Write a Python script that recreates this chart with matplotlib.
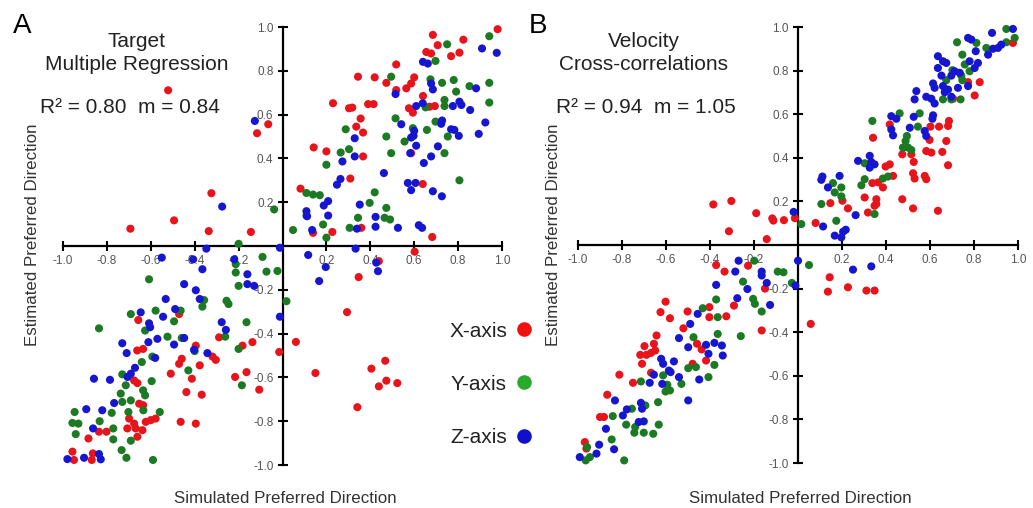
import matplotlib
matplotlib.use("Agg")
import matplotlib.pyplot as plt
from matplotlib.lines import Line2D

# ---------------- data (x = simulated, y = estimated preferred direction) ----------------
A_X_AXIS = [(0.98,0.99),(0.685,0.964),(0.707,0.917),(0.655,0.886),(0.677,0.879),(0.824,0.942),(0.806,0.883),
    (0.768,0.867),(0.518,0.829),(0.344,0.773),(0.42,0.77),(0.473,0.745),(0.586,0.742),(0.6,0.77),(0.564,0.72),
    (0.518,0.712),(0.23,0.652),(0.303,0.629),(0.318,0.632),(0.39,0.648),(0.415,0.648),(0.576,0.629),(0.594,0.609),
    (0.64,0.685),(0.694,0.639),(0.67,0.636),(0.356,0.582),(0.336,0.545),(0.367,0.518),(0.142,0.45),(0.2,0.432),
    (0.367,0.409),(0.309,0.308),(0.082,0.262),(0.639,0.283),(0.586,0.424),(0.227,0.064),(0.359,0.083),(0.139,0.06),
    (0.682,0.041),
    (-0.521,0.711),(-0.065,0.556),(-0.116,0.515),(-0.324,0.241),(-0.494,0.117),(-0.693,0.079),(-0.336,0.068),
    (-0.144,0.064),
    (-0.657,-0.338),(-0.471,-0.311),(-0.662,-0.477),(-0.635,-0.47),(-0.395,-0.455),(-0.289,-0.417),(-0.319,-0.505),
    (-0.304,-0.52),(-0.459,-0.515),(-0.471,-0.538),(-0.509,-0.583),(-0.377,-0.545),(-0.413,-0.606),(-0.676,-0.614),
    (-0.661,-0.626),(-0.438,-0.667),(-0.368,-0.679),(-0.653,-0.72),(-0.635,-0.727),(-0.699,-0.788),(-0.676,-0.811),
    (-0.707,-0.833),(-0.669,-0.833),(-0.638,-0.841),(-0.623,-0.803),(-0.6,-0.795),(-0.578,-0.788),(-0.661,-0.871),
    (-0.836,-0.848),(-0.802,-0.848),(-0.884,-0.879),(-0.464,-0.803),(-0.395,-0.811),(-0.957,-0.939),(-0.95,-0.977),
    (-0.864,-0.947),(-0.869,-0.977),(-0.182,-0.455),(-0.137,-0.439),(-0.216,-0.598),(-0.164,-0.576),(-0.106,-0.656),
    (-0.015,-0.484),
    (0.347,-0.142),(0.294,-0.302),(0.061,-0.438),(0.15,-0.58),(0.405,-0.56),(0.468,-0.524),(0.439,-0.641),
    (0.473,-0.615),(0.523,-0.626),(0.341,-0.736),(0.602,-0.026),(0.439,-0.069)]

A_Y_AXIS = [(0.942,0.958),(0.75,0.921),(0.697,0.845),(0.674,0.761),(0.727,0.745),(0.78,0.758),(0.495,0.773),
    (0.852,0.73),(0.942,0.745),(0.791,0.705),(0.942,0.655),(0.738,0.667),(0.738,0.639),(0.652,0.633),(0.515,0.583),
    (0.697,0.568),(0.658,0.53),(0.556,0.477),(0.594,0.538),(0.473,0.5),(0.495,0.424),(0.738,0.424),(0.753,0.5),
    (0.806,0.3),(0.288,0.533),(0.303,0.442),(0.265,0.427),(0.2,0.371),(0.109,0.242),(0.139,0.235),(0.17,0.232),
    (-0.038,0.167),(0.42,0.245),(0.397,0.197),(0.473,0.174),(0.465,0.129),(0.49,0.121),(0.344,0.129),(0.306,0.083),
    (0.185,0.098),(0.109,0.139),(0.048,0.073),(0.2,0.038),(-0.2,0.01),
    (-0.608,-0.152),(-0.836,-0.376),(-0.691,-0.311),(-0.578,-0.295),(-0.494,-0.344),(-0.464,-0.295),(-0.626,-0.386),
    (-0.524,-0.414),(-0.459,-0.42),(-0.40,-0.48),(-0.593,-0.505),(-0.641,-0.53),(-0.429,-0.568),(-0.73,-0.586),
    (-0.714,-0.636),(-0.596,-0.617),(-0.635,-0.659),(-0.626,-0.682),(-0.737,-0.674),(-0.73,-0.712),(-0.691,-0.705),
    (-0.778,-0.762),(-0.702,-0.758),(-0.634,-0.75),(-0.559,-0.758),(-0.947,-0.758),(-0.957,-0.808),(-0.93,-0.811),
    (-0.942,-0.859),(-0.833,-0.8),(-0.771,-0.833),(-0.771,-0.883),(-0.691,-0.889),(-0.733,-0.932),(-0.711,-0.967),
    (-0.59,-0.977),(-0.091,-0.05),(-0.213,-0.083),(-0.213,-0.121),(-0.2,-0.182),(-0.073,-0.117),(-0.023,-0.114),
    (-0.357,-0.247),(-0.365,-0.277),(-0.255,-0.25),(-0.246,-0.265),(-0.164,-0.348),(-0.261,-0.414),(-0.2,-0.47),
    (-0.185,-0.636),(0.018,-0.252)]

A_Z_AXIS = [(0.909,0.902),(0.976,0.882),(0.64,0.841),(0.662,0.833),(0.677,0.742),(0.685,0.715),(0.882,0.72),
    (0.515,0.694),(0.609,0.639),(0.639,0.652),(0.776,0.639),(0.806,0.659),(0.815,0.644),(0.855,0.621),(0.727,0.573),
    (0.723,0.558),(0.768,0.533),(0.783,0.53),(0.803,0.503),(0.541,0.556),(0.6,0.526),(0.597,0.503),(0.609,0.458),
    (0.586,0.495),(0.582,0.424),(0.708,0.455),(0.677,0.409),(0.644,0.379),(0.924,0.564),(0.894,0.512),(0.329,0.492),
    (0.329,0.409),(0.273,0.386),(0.264,0.306),(0.248,0.28),(0.462,0.333),(0.571,0.288),(0.606,0.288),(0.586,0.255),
    (0.685,0.25),(0.726,0.227),(0.208,0.205),(0.188,0.185),(0.352,0.189),(0.109,0.159),(0.112,0.136),(0.208,0.139),
    (0.135,0.073),(0.424,0.133),(0.424,0.088),(0.339,0.079),(0.621,0.095),(0.636,0.083),(0.526,0.083),
    (-0.012,-0.008),(0.333,-0.012),
    (-0.126,0.571),(-0.275,0.18),(-0.347,-0.012),
    (-0.55,-0.053),(-0.407,-0.061),(-0.365,-0.106),(-0.22,-0.061),(-0.16,-0.129),(-0.16,-0.174),(-0.129,-0.182),
    (-0.448,-0.174),(-0.395,-0.202),(-0.377,-0.242),(-0.532,-0.242),(-0.544,-0.323),(-0.489,-0.288),(-0.646,-0.303),
    (-0.608,-0.353),(-0.603,-0.371),(-0.611,-0.439),(-0.57,-0.424),(-0.494,-0.45),(-0.448,-0.42),(-0.73,-0.444),
    (-0.71,-0.489),(-0.58,-0.511),(-0.672,-0.556),(-0.691,-0.583),(-0.706,-0.598),(-0.859,-0.606),(-0.786,-0.611),
    (-0.767,-0.717),(-0.821,-0.75),(-0.894,-0.745),(-0.863,-0.833),(-0.403,-0.474),(-0.342,-0.489),(-0.277,-0.348),
    (-0.258,-0.383),(-0.012,-0.323),(-0.98,-0.973),(-0.904,-0.967),(-0.836,-0.95),(-0.828,-0.974),
    (0.117,-0.041),(0.197,-0.096),(0.167,-0.16),(0.427,-0.076),(0.435,-0.115)]

B_X_AXIS = [(-0.385,0.186),(-0.303,0.202),(-0.314,0.063),(-0.19,0.146),(-0.117,0.122),(-0.112,0.112),
    (-0.064,0.114),(-0.014,0.123),(-0.142,0.027),
    (0.977,0.927),(0.826,0.747),(0.773,0.747),(0.803,0.686),(0.705,0.671),(0.417,0.553),(0.641,0.543),(0.686,0.569),
    (0.682,0.546),(0.602,0.543),(0.598,0.482),(0.341,0.492),(0.674,0.477),(0.583,0.431),(0.606,0.424),(0.656,0.427),
    (0.515,0.416),(0.526,0.381),(0.474,0.416),(0.682,0.366),(0.417,0.37),(0.398,0.36),(0.432,0.317),(0.523,0.329),
    (0.576,0.317),(0.583,0.302),(0.53,0.305),(0.338,0.284),(0.364,0.287),(0.386,0.264),(0.356,0.21),(0.356,0.188),
    (0.348,0.18),(0.303,0.218),(0.318,0.149),(0.474,0.21),(0.523,0.168),(0.636,0.157),(0.227,0.168),(0.202,0.203),
    (0.147,0.192),(0.08,0.101),
    (-0.372,-0.092),(-0.334,-0.122),(-0.227,-0.095),(-0.15,-0.2),(-0.165,-0.392),(-0.291,-0.278),(-0.326,-0.327),
    (-0.403,-0.285),(-0.403,-0.331),(-0.602,-0.26),(-0.625,-0.308),(-0.582,-0.336),(-0.502,-0.305),(-0.521,-0.382),
    (-0.643,-0.415),(-0.655,-0.453),(-0.698,-0.464),(-0.717,-0.504),(-0.689,-0.504),(-0.668,-0.495),(-0.649,-0.484),
    (-0.709,-0.545),(-0.459,-0.453),(-0.438,-0.479),(-0.418,-0.53),(-0.479,-0.545),(-0.668,-0.586),(-0.812,-0.595),
    (-0.75,-0.632),(-0.867,-0.687),(-0.9,-0.789),(-0.882,-0.789),(-0.969,-0.904),(-0.962,-0.934),
    (0.144,-0.148),(0.136,-0.214),(0.227,-0.194),(0.311,-0.209),(0.348,-0.209),(0.058,-0.362)]

B_Y_AXIS = [(0.947,0.991),(0.985,0.95),(0.947,0.93),(0.723,0.93),(0.811,0.927),(0.856,0.904),(0.747,0.873),
    (0.758,0.828),(0.702,0.802),(0.742,0.777),(0.78,0.797),(0.674,0.756),(0.747,0.756),(0.659,0.668),(0.697,0.668),
    (0.739,0.668),(0.462,0.604),(0.553,0.604),(0.545,0.543),(0.495,0.5),(0.489,0.477),(0.477,0.447),(0.5,0.447),
    (0.515,0.436),(0.338,0.569),(0.303,0.375),(0.303,0.302),(0.288,0.274),(0.386,0.305),(0.409,0.314),(0.159,0.284),
    (0.197,0.264),(0.167,0.241),(0.197,0.223),(0.106,0.188),(0.174,0.111),(0.348,0.142),(0.015,0.096),
    (-0.199,-0.072),(-0.092,-0.122),(-0.066,-0.125),(-0.028,-0.174),(-0.25,-0.168),(-0.204,-0.247),(-0.196,-0.27),
    (-0.165,-0.305),(-0.372,-0.25),(-0.433,-0.29),(-0.365,-0.331),(-0.365,-0.408),(-0.26,-0.418),(-0.475,-0.423),
    (-0.38,-0.55),(-0.407,-0.606),(-0.499,-0.565),(-0.464,-0.56),(-0.53,-0.637),(-0.613,-0.598),(-0.594,-0.641),
    (-0.602,-0.672),(-0.582,-0.667),(-0.636,-0.721),(-0.714,-0.626),(-0.694,-0.736),(-0.755,-0.751),(-0.842,-0.785),
    (-0.781,-0.824),(-0.74,-0.835),(-0.633,-0.824),(-0.744,-0.861),(-0.701,-0.861),(-0.658,-0.866),(-0.847,-0.892),
    (-0.959,-0.927),(-0.946,-0.973),(-0.965,-0.988),(-0.79,-0.988),(0.05,-0.092)]

B_Z_AXIS = [(0.977,0.991),(0.882,0.973),(0.773,0.95),(0.788,0.942),(0.808,0.889),(0.886,0.9),(0.909,0.904),
    (0.924,0.919),(0.864,0.873),(0.818,0.835),(0.78,0.843),(0.636,0.866),(0.659,0.843),(0.674,0.835),(0.636,0.812),
    (0.652,0.777),(0.712,0.797),(0.735,0.79),(0.697,0.777),(0.803,0.812),(0.614,0.741),(0.621,0.721),(0.659,0.729),
    (0.682,0.713),(0.667,0.701),(0.697,0.68),(0.727,0.721),(0.773,0.729),(0.538,0.706),(0.53,0.668),(0.583,0.68),
    (0.606,0.671),(0.621,0.649),(0.614,0.595),(0.611,0.579),(0.424,0.591),(0.447,0.579),(0.424,0.53),(0.432,0.503),
    (0.526,0.588),(0.508,0.538),(0.576,0.523),(0.583,0.5),(0.273,0.386),(0.326,0.409),(0.333,0.381),(0.348,0.37),
    (0.326,0.355),(0.111,0.314),(0.106,0.299),(0.189,0.317),(0.136,0.264),(0.262,0.137),(-0.02,0.152),(0.114,0.085),
    (0.167,0.043),(0.205,0.061),(0.217,0.07),(0.197,0.035),
    (-0.27,-0.072),(-0.285,-0.122),(-0.165,-0.122),(-0.165,-0.14),(-0.142,-0.174),(-0.23,-0.202),(-0.012,-0.186),
    (0.0,-0.072),(-0.127,-0.275),(-0.276,-0.244),(-0.372,-0.183),(-0.456,-0.316),(-0.49,-0.362),(-0.541,-0.427),
    (-0.499,-0.469),(-0.418,-0.458),(-0.38,-0.449),(-0.346,-0.461),(-0.342,-0.507),(-0.407,-0.499),(-0.622,-0.522),
    (-0.613,-0.545),(-0.564,-0.534),(-0.587,-0.576),(-0.579,-0.583),(-0.541,-0.606),(-0.655,-0.595),(-0.674,-0.632),
    (-0.617,-0.637),(-0.449,-0.617),(-0.499,-0.713),(-0.832,-0.713),(-0.714,-0.724),(-0.709,-0.751),(-0.778,-0.754),
    (-0.796,-0.782),(-0.701,-0.809),(-0.724,-0.812),(-0.873,-0.843),(-0.904,-0.916),(-0.916,-0.957),(-0.836,-0.937),
    (-0.992,-0.973),(0.25,-0.113),(0.333,-0.098)]

TICKS = [-1.0, -0.8, -0.6, -0.4, -0.2, 0.2, 0.4, 0.6, 0.8, 1.0]
TICK_LABELS = ["-1.0", "-0.8", "-0.6", "-0.4", "-0.2", "0.2", "0.4", "0.6", "0.8", "1.0"]
SERIES_NAMES = ["X-axis", "Y-axis", "Z-axis"]
DOT_COLORS = ["#e8141c", "#1c7a22", "#1616d0"]
LEGEND_COLORS = ["#f01010", "#2aaa2a", "#1010cc"]
PANEL_A_TITLE = ["Target", "Multiple Regression"]
PANEL_B_TITLE = ["Velocity", "Cross-correlations"]
PANEL_A_STATS = "R\u00b2 = 0.80  m = 0.84"
PANEL_B_STATS = "R\u00b2 = 0.94  m = 1.05"
XLABEL = "Simulated Preferred Direction"
YLABEL = "Estimated Preferred Direction"

# ---------------- figure ----------------
plt.rcParams['font.family'] = ['Liberation Sans', 'DejaVu Sans']
plt.rcParams['axes.unicode_minus'] = False

W, H = 1033, 508
fig = plt.figure(figsize=(W / 100, H / 100), dpi=100)
fig.patch.set_facecolor('white')


def fx(px):
    return px / W


def fy(py):
    return 1 - py / H


def make_axes(left_px, right_px, top_px, bottom_px):
    ax = fig.add_axes([fx(left_px), fy(bottom_px), (right_px - left_px) / W, (bottom_px - top_px) / H])
    ax.set_xlim(-1, 1)
    ax.set_ylim(-1, 1)
    for s in ('top', 'right'):
        ax.spines[s].set_visible(False)
    for s in ('left', 'bottom'):
        ax.spines[s].set_position(('data', 0))
        ax.spines[s].set_linewidth(1.6)
        ax.spines[s].set_color('black')
    ax.set_xticks(TICKS)
    ax.set_xticklabels(TICK_LABELS)
    ax.set_yticks(TICKS)
    ax.set_yticklabels(TICK_LABELS)
    ax.tick_params(direction='inout', length=7, width=1.5, color='black',
                   labelsize=8.5, labelcolor='#555555', pad=3)
    ax.patch.set_alpha(0)
    return ax


axA = make_axes(63, 502, 27, 465)
axB = make_axes(578, 1018, 27, 463)

for ax, sets in ((axA, (A_X_AXIS, A_Y_AXIS, A_Z_AXIS)), (axB, (B_X_AXIS, B_Y_AXIS, B_Z_AXIS))):
    for pts, col in zip(sets, DOT_COLORS):
        xs = [p[0] for p in pts]
        ys = [p[1] for p in pts]
        ax.scatter(xs, ys, s=34, color=col, edgecolors='none', clip_on=False, zorder=3)

# panel letters
fig.text(fx(13), fy(33), "A", fontsize=20, color='black', ha='left', va='baseline')
fig.text(fx(529), fy(33), "B", fontsize=20, color='black', ha='left', va='baseline')

# titles
tcol = '#222222'
fig.text(fx(137), fy(47), PANEL_A_TITLE[0], fontsize=15, color=tcol, ha='center', va='baseline')
fig.text(fx(137), fy(70), PANEL_A_TITLE[1], fontsize=15, color=tcol, ha='center', va='baseline')
fig.text(fx(40), fy(113), PANEL_A_STATS, fontsize=15, color=tcol, ha='left', va='baseline')
fig.text(fx(644), fy(47), PANEL_B_TITLE[0], fontsize=15, color=tcol, ha='center', va='baseline')
fig.text(fx(644), fy(70), PANEL_B_TITLE[1], fontsize=15, color=tcol, ha='center', va='baseline')
fig.text(fx(556), fy(113), PANEL_B_STATS, fontsize=15, color=tcol, ha='left', va='baseline')

# axis labels
lcol = '#333333'
fig.text(fx(285), fy(503), XLABEL, fontsize=12.2, color=lcol, ha='center', va='baseline')
fig.text(fx(800), fy(503), XLABEL, fontsize=12.2, color=lcol, ha='center', va='baseline')
fig.text(fx(33), fy(235), YLABEL, fontsize=12.2, color=lcol, ha='center', va='center', rotation=90)
fig.text(fx(553), fy(235), YLABEL, fontsize=12.2, color=lcol, ha='center', va='center', rotation=90)

# legend
for name, col, (tb, dc) in zip(SERIES_NAMES, LEGEND_COLORS, ((337, 329), (390, 382), (443, 436))):
    fig.text(fx(507), fy(tb), name, fontsize=15, color=tcol, ha='right', va='baseline')
    fig.add_artist(Line2D([fx(524)], [fy(dc)], marker='o', markersize=10.5, color=col,
                          markeredgewidth=0, linestyle='none', transform=fig.transFigure))

fig.savefig("out.png", dpi=100)
